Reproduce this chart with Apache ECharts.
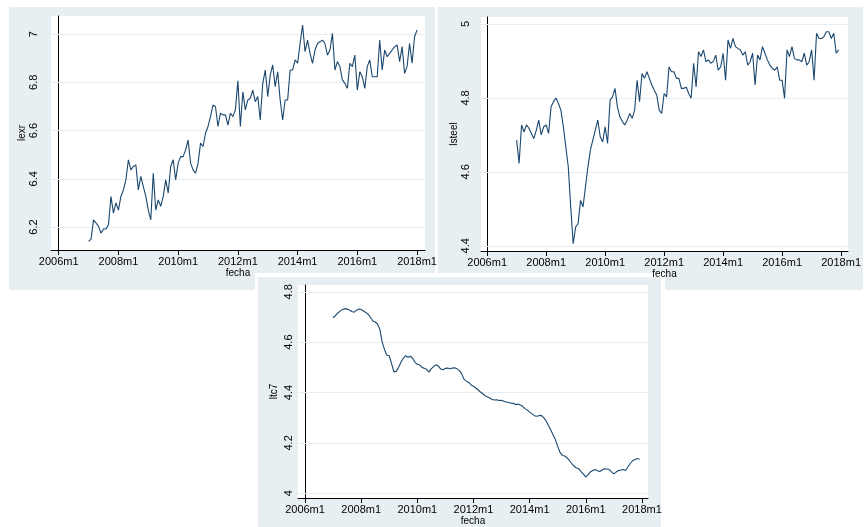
<!DOCTYPE html>
<html>
<head>
<meta charset="utf-8">
<script src="https://cdn.jsdelivr.net/npm/echarts@6/dist/echarts.min.js"></script>
<style>
  html, body { margin: 0; padding: 0; background: #ffffff; }
  #chart { width: 864px; height: 527px; }
</style>
</head>
<body>
<div id="chart"></div>
<script>
// Monthly series, first observation 2007m1
const lexr = [
  6.141, 6.150, 6.230, 6.217, 6.203, 6.175, 6.192, 6.192, 6.210, 6.327,
  6.258, 6.300, 6.270, 6.327, 6.354, 6.396, 6.479, 6.437, 6.451, 6.458,
  6.354, 6.410, 6.368, 6.327, 6.270, 6.230, 6.423, 6.270, 6.313, 6.286,
  6.327, 6.396, 6.341, 6.451, 6.479, 6.396, 6.465, 6.492, 6.492, 6.520,
  6.561, 6.465, 6.437, 6.423, 6.465, 6.548, 6.534, 6.589, 6.617, 6.658,
  6.706, 6.699, 6.617, 6.672, 6.665, 6.665, 6.623, 6.672, 6.658, 6.686,
  6.806, 6.617, 6.761, 6.686, 6.727, 6.734, 6.768, 6.720, 6.741, 6.644,
  6.796, 6.851, 6.741, 6.830, 6.872, 6.782, 6.844, 6.727, 6.644, 6.727,
  6.727, 6.851, 6.851, 6.893, 6.879, 6.961, 7.037, 6.927, 6.975, 6.920,
  6.879, 6.934, 6.961, 6.968, 6.975, 6.961, 6.913, 6.934, 7.003, 6.851,
  6.886, 6.865, 6.810, 6.796, 6.775, 6.879, 6.865, 6.913, 6.768, 6.844,
  6.823, 6.775, 6.865, 6.893, 6.823, 6.823, 6.823, 6.975, 6.851, 6.934,
  6.906, 6.920, 6.934, 6.948, 6.955, 6.886, 6.948, 6.837, 6.865, 6.961,
  6.879, 6.989, 7.017
];

const lsteel = [
  4.686, 4.623, 4.727, 4.708, 4.727, 4.718, 4.704, 4.690, 4.713, 4.740,
  4.700, 4.722, 4.727, 4.704, 4.776, 4.790, 4.800, 4.785, 4.767, 4.722,
  4.668, 4.614, 4.505, 4.406, 4.451, 4.460, 4.523, 4.505, 4.560, 4.614,
  4.659, 4.686, 4.713, 4.740, 4.695, 4.681, 4.722, 4.677, 4.794, 4.803,
  4.826, 4.776, 4.749, 4.736, 4.727, 4.740, 4.758, 4.745, 4.767, 4.848,
  4.790, 4.866, 4.853, 4.871, 4.853, 4.835, 4.821, 4.808, 4.767, 4.758,
  4.812, 4.803, 4.884, 4.871, 4.871, 4.853, 4.853, 4.826, 4.826, 4.829,
  4.812, 4.799, 4.894, 4.830, 4.925, 4.912, 4.930, 4.898, 4.903, 4.894,
  4.899, 4.916, 4.875, 4.884, 4.921, 4.848, 4.957, 4.934, 4.961, 4.939,
  4.934, 4.930, 4.916, 4.925, 4.889, 4.898, 4.921, 4.835, 4.916, 4.903,
  4.939, 4.921, 4.903, 4.889, 4.880, 4.875, 4.884, 4.848, 4.848, 4.799,
  4.930, 4.912, 4.939, 4.907, 4.903, 4.903, 4.898, 4.921, 4.889, 4.898,
  4.930, 4.848, 4.975, 4.961, 4.961, 4.966, 4.979, 4.979, 4.961, 4.975,
  4.921, 4.930
];

const ltc7 = [
  4.697, 4.705, 4.716, 4.723, 4.730, 4.733, 4.732, 4.728, 4.722, 4.719,
  4.727, 4.732, 4.730, 4.724, 4.718, 4.710, 4.698, 4.684, 4.680, 4.672,
  4.650, 4.600, 4.570, 4.548, 4.546, 4.515, 4.482, 4.484, 4.500, 4.520,
  4.536, 4.546, 4.540, 4.544, 4.536, 4.520, 4.512, 4.510, 4.500, 4.495,
  4.492, 4.481, 4.495, 4.503, 4.510, 4.505, 4.493, 4.490, 4.496, 4.497,
  4.494, 4.497, 4.498, 4.494, 4.487, 4.474, 4.452, 4.445, 4.440, 4.430,
  4.425, 4.418, 4.410, 4.402, 4.395, 4.387, 4.382, 4.378, 4.372, 4.370,
  4.371, 4.368, 4.369, 4.365, 4.362, 4.360, 4.358, 4.357, 4.352, 4.354,
  4.350, 4.345, 4.336, 4.330, 4.322, 4.316, 4.308, 4.306, 4.308, 4.309,
  4.300, 4.288, 4.270, 4.252, 4.232, 4.213, 4.186, 4.162, 4.150, 4.148,
  4.140, 4.130, 4.118, 4.108, 4.100, 4.097, 4.086, 4.076, 4.065, 4.074,
  4.085, 4.090, 4.094, 4.089, 4.086, 4.092, 4.097, 4.096, 4.094, 4.085,
  4.077, 4.084, 4.090, 4.092, 4.094, 4.090, 4.104, 4.118, 4.129, 4.134,
  4.138, 4.135
];

// x ticks: months counted from 2006m1
const xTicks = [0, 24, 48, 72, 96, 120, 144];
const yTicksLexr = [6.2, 6.4, 6.6, 6.8, 7];
const yTicksSteel = [4.4, 4.6, 4.8, 5];
const yTicksTc = [4, 4.2, 4.4, 4.6, 4.8];

const FIRST_MONTH = 12; // 2007m1
const toPairs = arr => arr.map((v, i) => [FIRST_MONTH + i, v]);
const fmtMonth = t => (2006 + Math.floor(t / 12)) + 'm' + (t % 12 + 1);

const BG = '#e8eff2';
const LINE = '#1a476f';
const GRIDC = '#e6eef1';
const FONT = 'Liberation Sans';

function xAxisFor(gi, min, max) {
  return {
    type: 'value', gridIndex: gi, min: min, max: max,
    name: 'fecha', nameLocation: 'middle', nameGap: 18,
    nameTextStyle: { fontFamily: FONT, fontSize: 10, color: '#000' },
    axisLine: { onZero: false, lineStyle: { color: '#000', width: 1 } },
    axisTick: { customValues: xTicks, length: 5, lineStyle: { color: '#000' } },
    axisLabel: { customValues: xTicks, formatter: fmtMonth, fontFamily: FONT,
                 fontSize: 11, color: '#000', margin: 6, hideOverlap: false,
                 showMinLabel: true, showMaxLabel: true },
    splitLine: { show: false }
  };
}

function yAxisFor(gi, min, max, ticks, title, gap, labelMargin) {
  return {
    type: 'value', gridIndex: gi, min: min, max: max,
    name: title, nameLocation: 'middle', nameGap: gap,
    nameTextStyle: { fontFamily: FONT, fontSize: 10, color: '#000' },
    axisLine: { show: true, lineStyle: { color: '#000', width: 1 } },
    axisTick: { show: true, customValues: ticks, length: 5, lineStyle: { color: '#000' } },
    axisLabel: { customValues: ticks, rotate: 90, fontFamily: FONT, fontSize: 11,
                 color: '#000', margin: labelMargin, formatter: v => String(v) },
    splitLine: { show: false }
  };
}

function seriesFor(gi, arr, ticks) {
  return {
    type: 'line', xAxisIndex: gi, yAxisIndex: gi, z: 3,
    data: toPairs(arr), showSymbol: false, symbol: 'none',
    lineStyle: { color: LINE, width: 1.1 }, animation: false,
    markLine: {
      silent: true, symbol: 'none', z: 1, animation: false,
      label: { show: false },
      lineStyle: { color: GRIDC, type: 'solid', width: 1.2 },
      data: ticks.map(v => ({ yAxis: v }))
    }
  };
}

const chart = echarts.init(document.getElementById('chart'), null, { renderer: 'canvas' });
chart.setOption({
  backgroundColor: '#ffffff',
  animation: false,
  graphic: [
    { type: 'rect', z: -10, shape: { x: 9, y: 7, width: 426, height: 283 }, style: { fill: BG } },
    { type: 'rect', z: -10, shape: { x: 438, y: 7, width: 425, height: 283 }, style: { fill: BG } },
    { type: 'rect', z: -10, shape: { x: 255, y: 273, width: 410, height: 254 }, style: { fill: '#ffffff' } },
    { type: 'rect', z: -10, shape: { x: 258, y: 277, width: 403, height: 250 }, style: { fill: BG } }
  ],
  grid: [
    { left: 51, top: 16, width: 374, height: 234, show: true, backgroundColor: '#fff', borderWidth: 0 },
    { left: 481, top: 17, width: 375, height: 234, show: true, backgroundColor: '#fff', borderWidth: 0 },
    { left: 298, top: 285, width: 350, height: 218, show: true, backgroundColor: '#fff', borderWidth: 0 }
  ],
  xAxis: [
    xAxisFor(0, -3.1, 147.2),
    xAxisFor(1, -2.5, 146.8),
    xAxisFor(2, -3.0, 146.6)
  ],
  yAxis: [
    yAxisFor(0, 6.105, 7.075, yTicksLexr, 'lexr', 20, 12),
    yAxisFor(1, 4.386, 5.019, yTicksSteel, 'lsteel', 19, 10),
    yAxisFor(2, 3.981, 4.827, yTicksTc, 'ltc7', 19, 4)
  ],
  series: [
    seriesFor(0, lexr, yTicksLexr),
    seriesFor(1, lsteel, yTicksSteel),
    seriesFor(2, ltc7, yTicksTc)
  ]
});
</script>
</body>
</html>
